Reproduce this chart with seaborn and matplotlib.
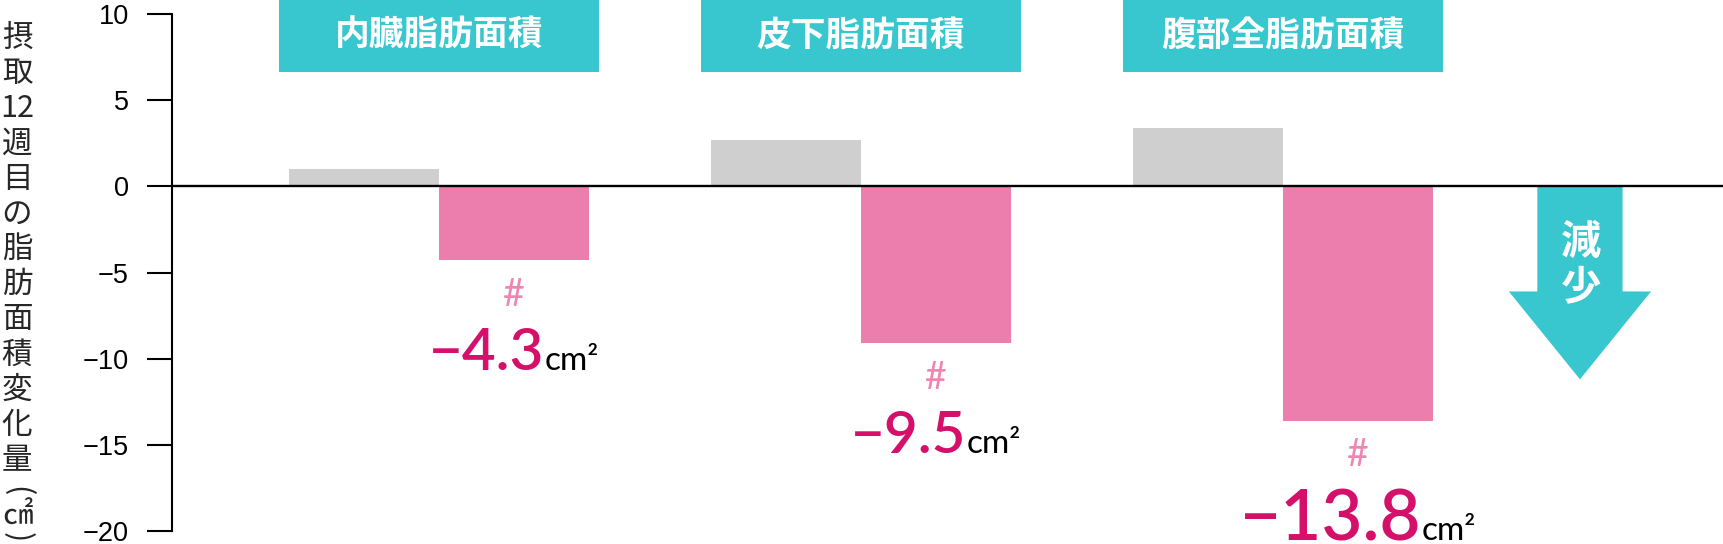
import numpy as np
import pandas as pd
import matplotlib
matplotlib.use("Agg")
import matplotlib.pyplot as plt
from matplotlib.patches import Rectangle, FancyArrow
import seaborn as sns

# values
categories = ["内臓脂肪面積", "皮下脂肪面積", "腹部全脂肪面積"]
groups = ["対照群", "摂取群"]
control = [1.0, 2.7, 3.4]
intake = [-4.3, -9.1, -13.6]
value_labels = ["−4.3", "−9.5", "−13.8"]
yticks = [-20, -15, -10, -5, 0, 5, 10]
ylabel_chars = ["摂", "取", "12", "週", "目", "の", "脂", "肪", "面", "積", "変", "化", "量"]

GRAY = "#CFCFCF"
PINK = "#EC7EAE"
TEAL = "#38C6CF"
MAGENTA = "#D4106A"
LIGHT_PINK = "#EE85B2"
JP = "Noto Sans CJK JP"
NUM = ["Lato", "DejaVu Sans"]

sns.set_style("white")
plt.rcParams["font.family"] = ["Liberation Sans", "Noto Sans CJK JP"]

df = pd.DataFrame({
    "部位": categories * 2,
    "群": [groups[0]] * 3 + [groups[1]] * 3,
    "変化量": control + intake,
})

fig = plt.figure(figsize=(17.23, 5.44), dpi=100)
ax = fig.add_axes([172 / 1723, 13 / 544, 1 - 172 / 1723, 517 / 544])

sns.barplot(data=df, x="部位", y="変化量", hue="群", hue_order=groups,
            order=categories, palette={groups[0]: GRAY, groups[1]: PINK},
            width=0.71, errorbar=None, legend=False, saturation=1,
            linewidth=0, ax=ax)

ax.set_xlim(-0.633, 3.043)
ax.set_ylim(-20, 10)
ax.set_yticks(yticks)
ax.set_xticks([])
ax.set_xlabel("")
ax.set_ylabel("")
for s in ["top", "right", "bottom"]:
    ax.spines[s].set_visible(False)
ax.spines["left"].set_color("black")
ax.spines["left"].set_linewidth(1.5)
ax.tick_params(axis="y", direction="out", length=18, width=1.5, pad=13,
               labelsize=19.5, colors="black", left=True)
ax.axhline(0, color="black", lw=1.7, zorder=5)

# header boxes
for i, name in enumerate(categories):
    ax.add_patch(Rectangle((i - 0.38, 6.63), 0.76, 4.5, color=TEAL,
                           clip_on=False, lw=0, zorder=3))
    ax.text(i, 8.75, name, ha="center", va="center", color="white",
            fontsize=25, fontweight="bold", family=JP, zorder=4)

# decrease arrow
ax.add_patch(FancyArrow(2.704, 0, 0, -11.2, width=0.202, head_width=0.337,
                        head_length=5.1, length_includes_head=True,
                        color=TEAL, lw=0, zorder=3))
ax.text(2.707, -3.25, "減", ha="center", va="center", color="white",
        fontsize=29, fontweight="bold", family=JP, zorder=4)
ax.text(2.707, -5.92, "少", ha="center", va="center", color="white",
        fontsize=29, fontweight="bold", family=JP, zorder=4)

# value labels below pink bars
num_sizes = [42, 42, 51]
drops = [6.35, 6.4, 6.95]
pairs = []
for i, (v, lab) in enumerate(zip(intake, value_labels)):
    xc = i + 0.178
    ax.text(xc, v - 2.0, "#", ha="center", va="center", color=LIGHT_PINK,
            fontsize=27, family=NUM)
    t1 = ax.text(xc, v - drops[i], lab, ha="left", va="baseline",
                 color=MAGENTA, fontsize=num_sizes[i], family=NUM,
                 fontweight="semibold", clip_on=False)
    t2 = ax.text(xc, v - drops[i], "cm²", ha="left", va="baseline",
                 color="black", fontsize=24, family=NUM, clip_on=False)
    pairs.append((xc, t1, t2))

fig.canvas.draw()
r = fig.canvas.get_renderer()
inv = ax.transData.inverted()
for xc, t1, t2 in pairs:
    w1 = t1.get_window_extent(r).width
    w2 = t2.get_window_extent(r).width
    cx = ax.transData.transform((xc, 0))[0]
    left = cx - (w1 + w2) / 2
    t1.set_x(inv.transform((left, 0))[0])
    t2.set_x(inv.transform((left + w1, 0))[0])

# vertical y-axis label
H = 544
for i, ch in enumerate(ylabel_chars):
    fig.text(17 / 1723, 1 - (38 + i * 35.25) / H, ch, ha="center",
             va="center", fontsize=22, family=JP)
fig.text(17 / 1723, 1 - 491 / H, "(", ha="center", va="center",
         fontsize=22, family=JP, rotation=-90)
fig.text(17 / 1723, 1 - 516 / H, "㎠", ha="center", va="center",
         fontsize=22, family=JP)
fig.text(17 / 1723, 1 - 537 / H, ")", ha="center", va="center",
         fontsize=22, family=JP, rotation=-90)

fig.savefig("out.png", dpi=100)
